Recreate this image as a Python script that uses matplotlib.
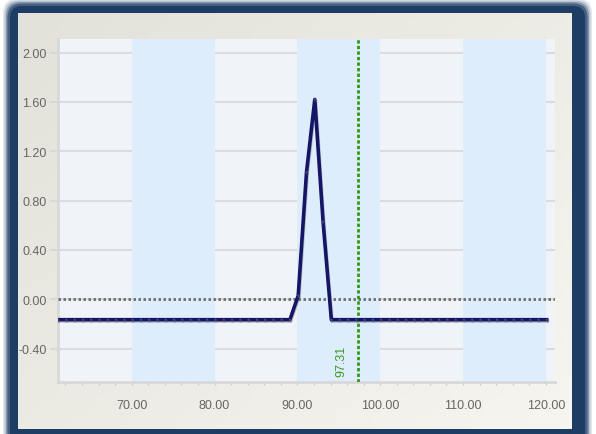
import numpy as np
import matplotlib.pyplot as plt
from matplotlib.patches import FancyBboxPatch
import matplotlib.patheffects as pe

# data
xs = [61.1, 62.1, 63.1, 64.1, 65.1, 66.1, 67.1, 68.1, 69.1, 70.1,
      71.1, 72.1, 73.1, 74.1, 75.1, 76.1, 77.1, 78.1, 79.1, 80.1,
      81.1, 82.1, 83.1, 84.1, 85.1, 86.1, 87.1, 88.1, 89.1, 90.1,
      91.1, 92.1, 93.1, 94.1, 95.1, 96.1, 97.1, 98.1, 99.1, 100.1,
      101.1, 102.1, 103.1, 104.1, 105.1, 106.1, 107.1, 108.1, 109.1, 110.1,
      111.1, 112.1, 113.1, 114.1, 115.1, 116.1, 117.1, 118.1, 119.1, 120.1]
ys = [-0.165, -0.165, -0.165, -0.165, -0.165, -0.165, -0.165, -0.165, -0.165, -0.165,
      -0.165, -0.165, -0.165, -0.165, -0.165, -0.165, -0.165, -0.165, -0.165, -0.165,
      -0.165, -0.165, -0.165, -0.165, -0.165, -0.165, -0.165, -0.165, -0.165, 0.03,
      1.03, 1.62, 0.63, -0.165, -0.165, -0.165, -0.165, -0.165, -0.165, -0.165,
      -0.165, -0.165, -0.165, -0.165, -0.165, -0.165, -0.165, -0.165, -0.165, -0.165,
      -0.165, -0.165, -0.165, -0.165, -0.165, -0.165, -0.165, -0.165, -0.165, -0.165]
marker_x = 97.31
bands = [(70, 80), (90, 100), (110, 120)]
xticks = [70, 80, 90, 100, 110, 120]
yticks = [-0.4, 0.0, 0.4, 0.8, 1.2, 1.6, 2.0]

font = ['Liberation Sans', 'DejaVu Sans']

W, H = 596, 435
fig = plt.figure(figsize=(W / 100, H / 100), dpi=100, facecolor='white')

# frame drawn in pixel coords
bg = fig.add_axes([0, 0, 1, 1])
bg.set_xlim(0, W)
bg.set_ylim(H, 0)
bg.axis('off')
for i, a in enumerate([0.12, 0.2, 0.35, 0.6]):
    g = 4 - i
    bg.add_patch(FancyBboxPatch((9 - g * 1.5, 6 - g * 1.5), 577 + g * 3, 440 + g * 3,
                                boxstyle='round,pad=0,rounding_size=14',
                                fc='#1d3d64', ec='none', alpha=a))
bg.add_patch(FancyBboxPatch((10, 7), 575, 440, boxstyle='round,pad=0,rounding_size=12',
                            fc='#1d3d64', ec='none'))
gx = np.linspace(0, 1, 64)
gy = np.linspace(0, 1, 64)
grad = 0.55 * gx[None, :] + 0.45 * gy[:, None]
c0 = np.array([226, 226, 218]) / 255
c1 = np.array([246, 245, 239]) / 255
img = c0 + (c1 - c0) * grad[..., None]
bg.imshow(img, extent=(18, 572, 430, 14), aspect='auto', zorder=2)

ax = fig.add_axes([58 / W, (H - 383) / H, (555 - 58) / W, (383 - 40) / H])
ax.set_facecolor('#f0f4f8')
ax.set_xlim(61.1, 121.1)
ax.set_ylim(-0.67, 2.11)

for y in yticks:
    ax.axhline(y, color='#dcdcdc', lw=1.5, zorder=0.5)
for a, b in bands:
    ax.axvspan(a, b, facecolor='#deedfc', edgecolor='none', zorder=1)

ax.axhline(0, color='#6e6e6e', lw=2.0, ls=(0, (0.9, 0.9)), zorder=3)
ax.axvline(marker_x, color='#2e9a12', lw=2.0, ls=(0, (1.2, 0.8)), zorder=4)
ax.text(marker_x - 1.3, -0.62, f'{marker_x:.2f}', rotation=90, color='#3a9a20',
        fontsize=9, family=font, ha='right', va='bottom', zorder=5)

ax.plot(xs, ys, color='#161565', lw=2.6, marker='o', ms=1.5, mfc='#4a4a90', mec='none',
        zorder=6, solid_joinstyle='round',
        path_effects=[pe.SimpleLineShadow(offset=(0.5, -1), shadow_color='#555555', alpha=0.3),
                      pe.Normal()])

for s in ['top', 'right']:
    ax.spines[s].set_visible(False)
for s in ['left', 'bottom']:
    ax.spines[s].set_color('#d8d8d8')
    ax.spines[s].set_linewidth(2)

ax.set_yticks(yticks)
ax.set_yticklabels([f'{v:.2f}' for v in yticks], family=font, fontsize=9, color='#666666')
ax.set_xticks(xticks)
ax.set_xticklabels([f'{v:.2f}' for v in xticks], family=font, fontsize=9, color='#666666')
ax.set_xticks(np.arange(62, 121, 2), minor=True)
ax.tick_params(axis='y', length=6, width=1.5, color='#d8d8d8', pad=2)
ax.tick_params(axis='x', which='both', length=2.5, width=1, color='#cccccc', pad=10)

fig.savefig('out.png', dpi=100, facecolor='white')
